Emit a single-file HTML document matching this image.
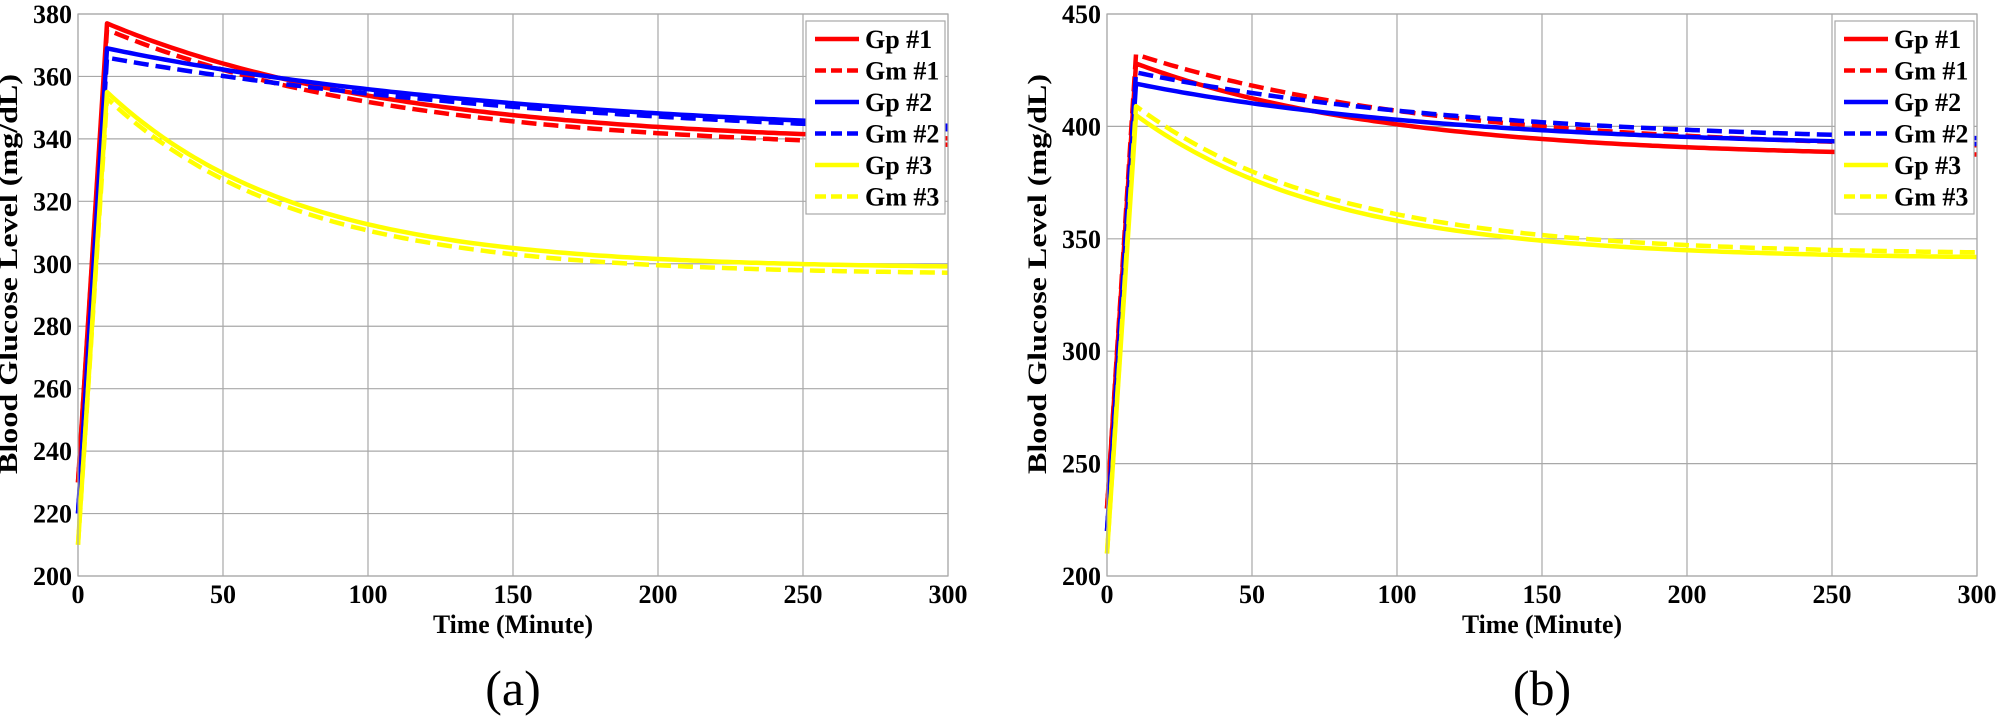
<!DOCTYPE html>
<html><head><meta charset="utf-8">
<style>
html,body{margin:0;padding:0;background:#fff;}
svg{display:block;}
text{font-family:"Liberation Serif",serif;fill:#000;}
.b{font-weight:bold;}
</style></head>
<body>
<svg id="s" width="2000" height="721" viewBox="0 0 2000 721" xmlns="http://www.w3.org/2000/svg"></svg>
<script>
const NS="http://www.w3.org/2000/svg";
const svg=document.getElementById('s');
function el(t,a,txt){const e=document.createElementNS(NS,t);for(const k in a)e.setAttribute(k,a[k]);if(txt!==undefined)e.textContent=txt;svg.appendChild(e);return e;}
function plot(cfg){
  const x0=cfg.x0,x1=x0+870,yT=14,yB=576;
  const X=t=>x0+t*(870/300);
  const Y=v=>yB-(v-cfg.ymin)*(562/(cfg.ymax-cfg.ymin));
  // grid
  for(let t=0;t<=300;t+=50){el('line',{x1:X(t),y1:yT,x2:X(t),y2:yB,stroke:'#a8a8a8','stroke-width':1.2});}
  for(let v=cfg.ymin;v<=cfg.ymax;v+=cfg.ystep){el('line',{x1:x0,y1:Y(v),x2:x1,y2:Y(v),stroke:'#a8a8a8','stroke-width':1.2});}
  // ticks labels
  for(let v=cfg.ymin;v<=cfg.ymax;v+=cfg.ystep){el('text',{x:x0-6,y:Y(v)+9,'text-anchor':'end','font-size':26,class:'b'},String(v));}
  for(let t=0;t<=300;t+=50){el('text',{x:X(t),y:603,'text-anchor':'middle','font-size':26,class:'b'},String(t));}
  el('text',{x:X(150),y:633,'text-anchor':'middle','font-size':26,class:'b',textLength:160,lengthAdjust:'spacingAndGlyphs'},'Time (Minute)');
  el('text',{x:X(150),y:705,'text-anchor':'middle','font-size':50},cfg.cap);
  const lx=x0-61,ly=274;
  el('text',{x:lx,y:ly,'text-anchor':'middle','font-size':26,class:'b',transform:`rotate(-90 ${lx} ${ly})`,textLength:400,lengthAdjust:'spacingAndGlyphs'},'Blood Glucose Level (mg/dL)');
  // series
  const cols={1:'#ff0000',2:'#0000ff',3:'#ffff00'};
  cfg.series.forEach(s=>{
    let d=`M${X(0)},${Y(s.s)} L${X(10)},${Y(s.p)}`;
    for(let t=12;t<=300;t+=2){const v=s.inf+(s.p-s.inf)*Math.exp(-(t-10)/s.tau);d+=` L${X(t).toFixed(1)},${Y(v).toFixed(1)}`;}
    const a={d:d,fill:'none',stroke:cols[s.c],'stroke-width':4.5,'stroke-linejoin':'round'};
    if(s.dash)a['stroke-dasharray']='15 7';
    el('path',a);
  });
  el('rect',{x:x0,y:yT,width:870,height:562,fill:'none',stroke:'#a8a8a8','stroke-width':1.2});
  // legend
  const L=x0+728;
  el('rect',{x:L,y:21,width:139,height:193,fill:'#fff',stroke:'#a8a8a8','stroke-width':1.2});
  const names=['Gp #1','Gm #1','Gp #2','Gm #2','Gp #3','Gm #3'];
  names.forEach((n,i)=>{
    const y=39+i*31.5,c=cols[Math.floor(i/2)+1];
    const a={x1:L+9,y1:y,x2:L+53,y2:y,stroke:c,'stroke-width':4.5};
    if(i%2)a['stroke-dasharray']='11 5';
    el('line',a);
    el('text',{x:L+59,y:y+9,'font-size':26,class:'b'},n);
  });
}
plot({x0:78,ymin:200,ymax:380,ystep:20,cap:'(a)',series:[
  {c:1,s:230,p:377,inf:338,tau:100},
  {c:1,s:230,p:375,inf:336,tau:100,dash:1},
  {c:2,s:220,p:369,inf:340,tau:150},
  {c:2,s:220,p:366,inf:338,tau:170,dash:1},
  {c:3,s:210,p:355,inf:298.5,tau:65},
  {c:3,s:210,p:353,inf:296.5,tau:65,dash:1}
]});
plot({x0:1107,ymin:200,ymax:450,ystep:50,cap:'(b)',series:[
  {c:1,s:230,p:428,inf:386,tau:87},
  {c:1,s:230,p:432,inf:389,tau:103,dash:1},
  {c:2,s:220,p:419,inf:390,tau:112},
  {c:2,s:220,p:424,inf:392,tau:119,dash:1},
  {c:3,s:210,p:405,inf:341,tau:68},
  {c:3,s:210,p:409,inf:343,tau:69,dash:1}
]});
</script>
</body></html>
